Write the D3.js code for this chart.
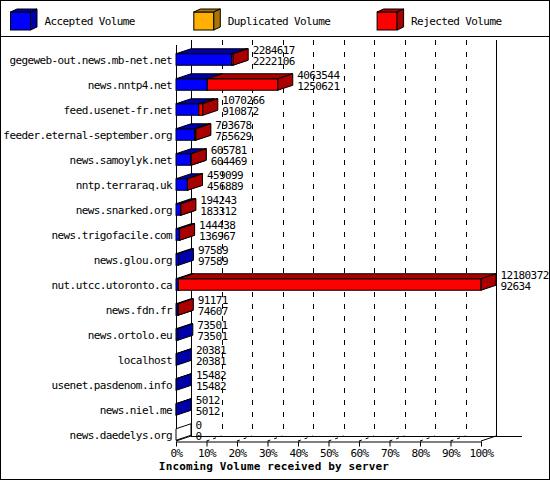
<!DOCTYPE html>
<html>
<head>
<meta charset="utf-8">
<script src="https://cdn.jsdelivr.net/npm/d3@7"></script>
<style>
body { margin: 0; background: #fff; }
svg text { font-family: "DejaVu Sans Mono", monospace; font-size: 11px; letter-spacing: -0.6px; fill: #000; }
</style>
</head>
<body>
<script>
// servers, top to bottom
var servers = ["gegeweb-out.news.mb-net.net", "news.nntp4.net", "feed.usenet-fr.net",
    "feeder.eternal-september.org", "news.samoylyk.net", "nntp.terraraq.uk", "news.snarked.org",
    "news.trigofacile.com", "news.glou.org", "nut.utcc.utoronto.ca", "news.fdn.fr",
    "news.ortolo.eu", "localhost", "usenet.pasdenom.info", "news.niel.me", "news.daedelys.org"];

// volumes per series
var accepted = [2222106, 1250621, 910872, 755629, 604469, 456889, 183312, 136967,
    97589, 92634, 74607, 73501, 20381, 15482, 5012, 0];
var duplicated = [0, 0, 0, 0, 0, 0, 0, 0, 0, 0, 0, 0, 0, 0, 0, 0];
var rejected = [62511, 2812923, 159394, 38049, 1312, 2210, 10931, 7471,
    0, 12087738, 16564, 0, 0, 0, 0, 0];

var seriesNames = ["Accepted Volume", "Duplicated Volume", "Rejected Volume"];
var seriesKeys = ["accepted", "duplicated", "rejected"];
var pctTicks = [0, 0.1, 0.2, 0.3, 0.4, 0.5, 0.6, 0.7, 0.8, 0.9, 1];

var colors = {accepted: "#0000ff", duplicated: "#ffb000", rejected: "#ff0000"};
var darks = {accepted: "#0000aa", duplicated: "#aa7500", rejected: "#aa0000"};

var W = 550, H = 480;
var dx = 15, dy = -5; // depth of the 3d look

var svg = d3.select("body").append("svg")
    .attr("width", W)
    .attr("height", H);

// frame + legend separator
svg.append("rect").attr("x", 0.5).attr("y", 0.5).attr("width", W - 1).attr("height", H - 1)
    .attr("fill", "#fff").attr("stroke", "#000");
svg.append("line").attr("x1", 0).attr("x2", W).attr("y1", 36.5).attr("y2", 36.5).attr("stroke", "#000");

// table for the stack
var rows = servers.map(function(s, i){
    return {server: s, accepted: accepted[i], duplicated: duplicated[i], rejected: rejected[i],
        total: accepted[i] + duplicated[i] + rejected[i]};
});
var maxTotal = d3.max(rows, function(d){ return d.total; });

var x = d3.scaleLinear().domain([0, maxTotal]).range([176, 481]);
var pct = d3.scaleLinear().domain([0, 1]).range([176, 481]);
var y = d3.scaleBand().domain(servers).range([47, 447]).paddingInner(0.54).paddingOuter(0.27);

var floorY = 441;

// back wall grid (dashed)
svg.selectAll(".grid")
    .data(pctTicks.slice(1, -1))
    .enter().append("line")
    .attr("x1", function(d){ return Math.round(pct(d) + dx) + 0.5; })
    .attr("x2", function(d){ return Math.round(pct(d) + dx) + 0.5; })
    .attr("y1", 40)
    .attr("y2", floorY + dy)
    .attr("stroke", "#000")
    .attr("stroke-dasharray", "5,7");

// floor grid, front to back
svg.selectAll(".floorgrid")
    .data(pctTicks.slice(1, -1))
    .enter().append("line")
    .attr("x1", function(d){ return pct(d); })
    .attr("x2", function(d){ return pct(d) + dx; })
    .attr("y1", floorY)
    .attr("y2", floorY + dy)
    .attr("stroke", "#000")
    .attr("stroke-dasharray", "3,4");

// walls
var walls = svg.append("g").attr("stroke", "#000").attr("fill", "none");
walls.append("line").attr("x1", 191.5).attr("x2", 191.5).attr("y1", 40).attr("y2", floorY + dy);
walls.append("line").attr("x1", pct(1) + dx + 0.5).attr("x2", pct(1) + dx + 0.5).attr("y1", 40).attr("y2", floorY + dy);
walls.append("line").attr("x1", 191).attr("x2", 522).attr("y1", floorY + dy + 0.5).attr("y2", floorY + dy + 0.5);
walls.append("line").attr("x1", 176.5).attr("x2", 176.5).attr("y1", 45).attr("y2", floorY);
walls.append("line").attr("x1", pct(0)).attr("x2", pct(0) + dx).attr("y1", floorY).attr("y2", floorY + dy);
walls.append("line").attr("x1", pct(1)).attr("x2", pct(1) + dx).attr("y1", floorY).attr("y2", floorY + dy);

// draws one 3d box
function box(g, x0, x1, y0, y1, fill, dark){
    g.append("rect").attr("x", x0).attr("y", y0).attr("width", x1 - x0).attr("height", y1 - y0)
        .attr("fill", fill).attr("stroke", "#000");
    g.append("polygon")
        .attr("points", [[x0, y0], [x1, y0], [x1 + dx, y0 + dy], [x0 + dx, y0 + dy]].join(" "))
        .attr("fill", dark).attr("stroke", "#000");
    g.append("polygon")
        .attr("points", [[x1, y0], [x1 + dx, y0 + dy], [x1 + dx, y1 + dy], [x1, y1]].join(" "))
        .attr("fill", dark).attr("stroke", "#000");
}

var stacked = d3.stack().keys(seriesKeys)(rows);
var bars = svg.append("g").attr("class", "bars");

// empty rows still get an outline
rows.forEach(function(d){
    if (d.total === 0) {
        var y0 = y(d.server), y1 = y0 + y.bandwidth();
        bars.append("polygon")
            .attr("points", [[x(0), y0], [x(0) + dx, y0 + dy], [x(0) + dx, y1 + dy], [x(0), y1]].join(" "))
            .attr("fill", "#fff").attr("stroke", "#000");
    }
});

stacked.forEach(function(layer){
    layer.forEach(function(d){
        if (d[1] - d[0] <= 0) return;
        var y0 = y(d.data.server);
        box(bars, x(d[0]), x(d[1]), y0, y0 + y.bandwidth(), colors[layer.key], darks[layer.key]);
    });
});

// value labels: total over accepted
var labels = svg.selectAll(".labels")
    .data(rows)
    .enter().append("text")
    .attr("class", "labels");
labels.append("tspan")
    .attr("x", function(d){ return x(d.total) + dx + 4.5; })
    .attr("y", function(d){ return y(d.server) + 0.5; })
    .text(function(d){ return d.total; });
labels.append("tspan")
    .attr("x", function(d){ return x(d.total) + dx + 4.5; })
    .attr("y", function(d){ return y(d.server) + y.bandwidth(); })
    .text(function(d){ return d.accepted; });

// server names
svg.selectAll(".names")
    .data(servers)
    .enter().append("text")
    .attr("text-anchor", "end")
    .attr("x", 172)
    .attr("y", function(d){ return y(d) + y.bandwidth() / 2 + 4; })
    .text(function(d){ return d; });

// percent axis
var xAxis = d3.axisBottom(pct)
    .tickValues(pctTicks)
    .tickFormat(d3.format(".0%"))
    .tickSizeInner(5)
    .tickSizeOuter(0)
    .tickPadding(3);
var axis = svg.append("g")
    .attr("transform", "translate(0," + (floorY + 0.5) + ")")
    .call(xAxis);
axis.selectAll("text").attr("font-family", null).attr("font-size", null);
axis.attr("font-family", null).attr("font-size", null);

svg.append("text")
    .attr("x", 274)
    .attr("y", 470)
    .attr("text-anchor", "middle")
    .style("font-weight", "bold")
    .style("letter-spacing", "0.15px")
    .text("Incoming Volume received by server");

// legend
var legend = svg.selectAll(".legend")
    .data(seriesKeys)
    .enter().append("g")
    .attr("transform", function(d, i){ return "translate(" + (10 + i * 183.3) + ",0)"; });
legend.each(function(k){
    var g = d3.select(this);
    g.append("rect").attr("x", 0.5).attr("y", 12).attr("width", 20).attr("height", 18)
        .attr("fill", colors[k]).attr("stroke", "#000");
    g.append("polygon").attr("points", "0.5,12 20.5,12 27,9 7,9").attr("fill", darks[k]).attr("stroke", "#000");
    g.append("polygon").attr("points", "20.5,12 27,9 27,27 20.5,30").attr("fill", darks[k]).attr("stroke", "#000");
});
legend.append("text")
    .attr("x", 34.5)
    .attr("y", 25)
    .text(function(d, i){ return seriesNames[i]; });
</script>
</body>
</html>
